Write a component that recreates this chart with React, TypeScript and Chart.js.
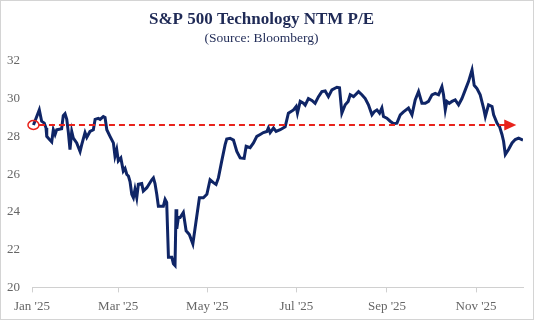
import React, { useEffect, useRef } from "react";
import { Chart, registerables } from "chart.js";

Chart.register(...registerables);

// Days since 1 Jan 2025
const days = [
  1, 5, 6.6, 8.4, 9.6, 10.1, 12.3, 13.5, 14.6, 15.8, 16.9, 20.3, 21.4, 22.6, 23.8, 24.9, 26, 27.2, 28.3, 30.6,
  32.9, 34, 36.3, 37.5, 39.7, 42, 43.2, 45.4, 46.6, 48.8, 50, 51.2, 53.4, 55.7, 56.8, 58, 59.1, 60.8, 62.5, 63.7,
  64.9, 66, 67.1, 68.3, 69.4, 70.5, 71.7, 72.8, 75.1, 76.2, 78.6, 82, 83.1, 84.2, 85.4, 86.5, 89.9, 91.1, 92.2, 93.4,
  95.7, 96.8, 97.9, 98.6, 99.1, 100.2, 101.4, 103.6, 105.5, 107.7, 110.1, 112.3, 114.6, 117.3, 119.7, 121.9, 124.2, 126, 127.6, 129.9,
  132.2, 133.3, 135.6, 137.9, 140.2, 142.5, 145.2, 146.6, 149.3, 151.6, 153.9, 156.2, 158.4, 160.8, 161.8, 163, 165.3, 167.1, 169.9, 173.3,
  175.5, 179, 180.8, 181.7, 183.6, 185.8, 187, 189.2, 191.6, 193.8, 196.1, 198.4, 200.7, 202.9, 205.3, 208.7, 210.5, 212.1, 214.4, 216.4,
  217.8, 220.1, 223.5, 225.8, 228.1, 230.3, 232.7, 234.2, 236.1, 237.9, 239.5, 240.6, 242.9, 245.2, 247.5, 249.8, 252.1, 254.3, 257.7, 260.1,
  262.3, 264.6, 266.9, 269.2, 271.4, 273.8, 276, 278.3, 280.6, 281.7, 282.9, 284, 285.6, 287.5, 289.7, 292, 294.3, 296.6, 298.8, 301.2,
  302.7, 304.6, 306.8, 309.1, 310.3, 312.5, 314.9, 316, 318.3, 320.1, 321.7, 322.8, 324, 326.2, 328.6, 330.8, 333.1, 336.1,
];

const pe = [
  28.6, 29.4, 28.8, 28.7, 28.44, 28.0, 27.8, 27.7, 28.35, 28.1, 28.35, 28.4, 29.1, 29.2, 28.9, 28.2, 27.3, 28.26, 27.9, 27.65,
  27.2, 27.55, 28.2, 27.95, 28.26, 28.35, 28.9, 28.95, 28.9, 29.05, 29.0, 28.35, 28.0, 27.65, 26.95, 27.3, 26.7, 26.86, 26.16, 26.3,
  25.98, 25.9, 25.6, 24.93, 24.75, 25.2, 24.75, 25.46, 25.5, 25.1, 25.28, 25.7, 25.8, 25.5, 24.93, 24.3, 24.3, 24.66, 24.5, 21.6,
  21.6, 21.25, 21.16, 24.14, 23.1, 23.7, 23.7, 23.97, 23.0, 22.8, 22.3, 23.5, 24.75, 24.75, 24.93, 25.7, 25.55, 25.45, 25.8, 26.7,
  27.56, 27.86, 27.9, 27.8, 27.2, 26.86, 26.83, 27.47, 27.4, 27.65, 28.0, 28.1, 28.2, 28.26, 28.44, 28.2, 28.44, 28.26, 28.35, 28.5,
  29.23, 29.4, 29.58, 29.23, 29.85, 29.75, 29.65, 30.0, 29.9, 29.75, 30.1, 30.37, 30.4, 30.1, 30.46, 30.6, 30.57, 29.23, 29.67, 29.85,
  30.2, 30.1, 30.37, 30.2, 30.0, 29.67, 29.14, 29.3, 29.4, 29.23, 29.5, 29.05, 28.96, 28.8, 28.67, 28.7, 29.14, 29.3, 29.5, 29.14,
  29.93, 30.37, 29.75, 29.75, 29.85, 30.2, 30.28, 30.2, 30.63, 30.2, 29.4, 29.85, 29.75, 29.85, 29.93, 29.67, 30.0, 30.46, 30.9, 31.52,
  30.7, 30.53, 30.2, 29.5, 29.05, 29.67, 29.58, 29.14, 28.7, 28.5, 28.1, 27.74, 27.04, 27.3, 27.65, 27.83, 27.9, 27.8,
];

const tickDays = [0, 59, 120, 181, 243, 304];
const tickLabels = ["Jan '25", "Mar '25", "May '25", "Jul '25", "Sep '25", "Nov '25"];

// Reference line annotation (start-of-year level)
const refValue = 28.6;
const refStartDay = 1;
const refEndDay = 331.5;

const TITLE = "S&P 500 Technology NTM P/E";
const SUBTITLE = "(Source: Bloomberg)";
const FONT = "'Liberation Serif', 'Times New Roman', serif";

const refPlugin = {
  id: "refLine",
  afterDatasetsDraw(chart: any) {
    const { ctx, scales } = chart;
    const xs = scales.x;
    const ys = scales.y;
    const y = ys.getPixelForValue(refValue);
    const cx = xs.getPixelForValue(refStartDay);
    const tip = xs.getPixelForValue(refEndDay);
    const rx = 5.5;
    const ry = 4.5;
    ctx.save();
    ctx.strokeStyle = "#e8231c";
    ctx.fillStyle = "#e8231c";
    ctx.lineWidth = 1.5;
    ctx.beginPath();
    ctx.ellipse(cx, y, rx, ry, 0, 0, Math.PI * 2);
    ctx.stroke();
    ctx.lineWidth = 2;
    ctx.setLineDash([6, 4]);
    ctx.beginPath();
    ctx.moveTo(cx + rx, y);
    ctx.lineTo(tip - 11, y);
    ctx.stroke();
    ctx.setLineDash([]);
    ctx.beginPath();
    ctx.moveTo(tip, y);
    ctx.lineTo(tip - 12, y - 5.5);
    ctx.lineTo(tip - 12, y + 5.5);
    ctx.closePath();
    ctx.fill();
    ctx.restore();
  },
};

export default function App() {
  const ref = useRef<HTMLCanvasElement | null>(null);

  useEffect(() => {
    document.body.style.margin = "0";
    const canvas = ref.current;
    if (!canvas) return;
    const chart = new Chart(canvas, {
      type: "line",
      data: {
        datasets: [
          {
            label: "NTM P/E",
            data: days.map((d, i) => ({ x: d, y: pe[i] })),
            borderColor: "#0f2566",
            borderWidth: 3,
            pointRadius: 0,
            tension: 0,
            fill: false,
          },
        ],
      },
      options: {
        responsive: false,
        animation: false,
        events: [],
        layout: { padding: { left: 0, right: 12, top: 0, bottom: 5 } },
        plugins: {
          legend: { display: false },
          tooltip: { enabled: false },
          title: {
            display: true,
            text: TITLE,
            color: "#1f2a56",
            font: { family: FONT, size: 17, weight: "bold" },
            padding: { top: 9, bottom: 0.5 },
          },
          subtitle: {
            display: true,
            text: SUBTITLE,
            color: "#1f2a56",
            font: { family: FONT, size: 13.5 },
            padding: { top: 0, bottom: 14.7 },
          },
        },
        scales: {
          x: {
            type: "linear",
            min: 0,
            max: 336.1,
            afterBuildTicks: (scale: any) => {
              scale.ticks = tickDays.map((v) => ({ value: v }));
            },
            ticks: {
              autoSkip: false,
              maxRotation: 0,
              color: "#666666",
              font: { family: FONT, size: 13 },
              padding: 6,
              callback: (v: any) => {
                const i = tickDays.indexOf(Number(v));
                return i >= 0 ? tickLabels[i] : "";
              },
            },
            grid: {
              display: true,
              drawOnChartArea: false,
              drawTicks: true,
              tickLength: 5,
              color: "#d0d0d0",
            },
            border: { display: true, color: "#d0d0d0", width: 1 },
          },
          y: {
            min: 20,
            max: 32,
            afterFit: (scale: any) => {
              scale.width = 32;
            },
            ticks: {
              stepSize: 2,
              color: "#666666",
              font: { family: FONT, size: 13 },
              padding: 12,
            },
            grid: { display: false, drawTicks: false },
            border: { display: false },
          },
        },
      },
      plugins: [refPlugin],
    } as any);
    return () => chart.destroy();
  }, []);

  return (
    <div style={{ position: "relative", width: 535, height: 325, background: "#ffffff" }}>
      <canvas ref={ref} width={535} height={325} style={{ display: "block" }} />
      <div
        style={{
          position: "absolute",
          left: 0,
          top: 0,
          width: 532,
          height: 318,
          border: "1px solid #d4d4d4",
          pointerEvents: "none",
        }}
      />
    </div>
  );
}
